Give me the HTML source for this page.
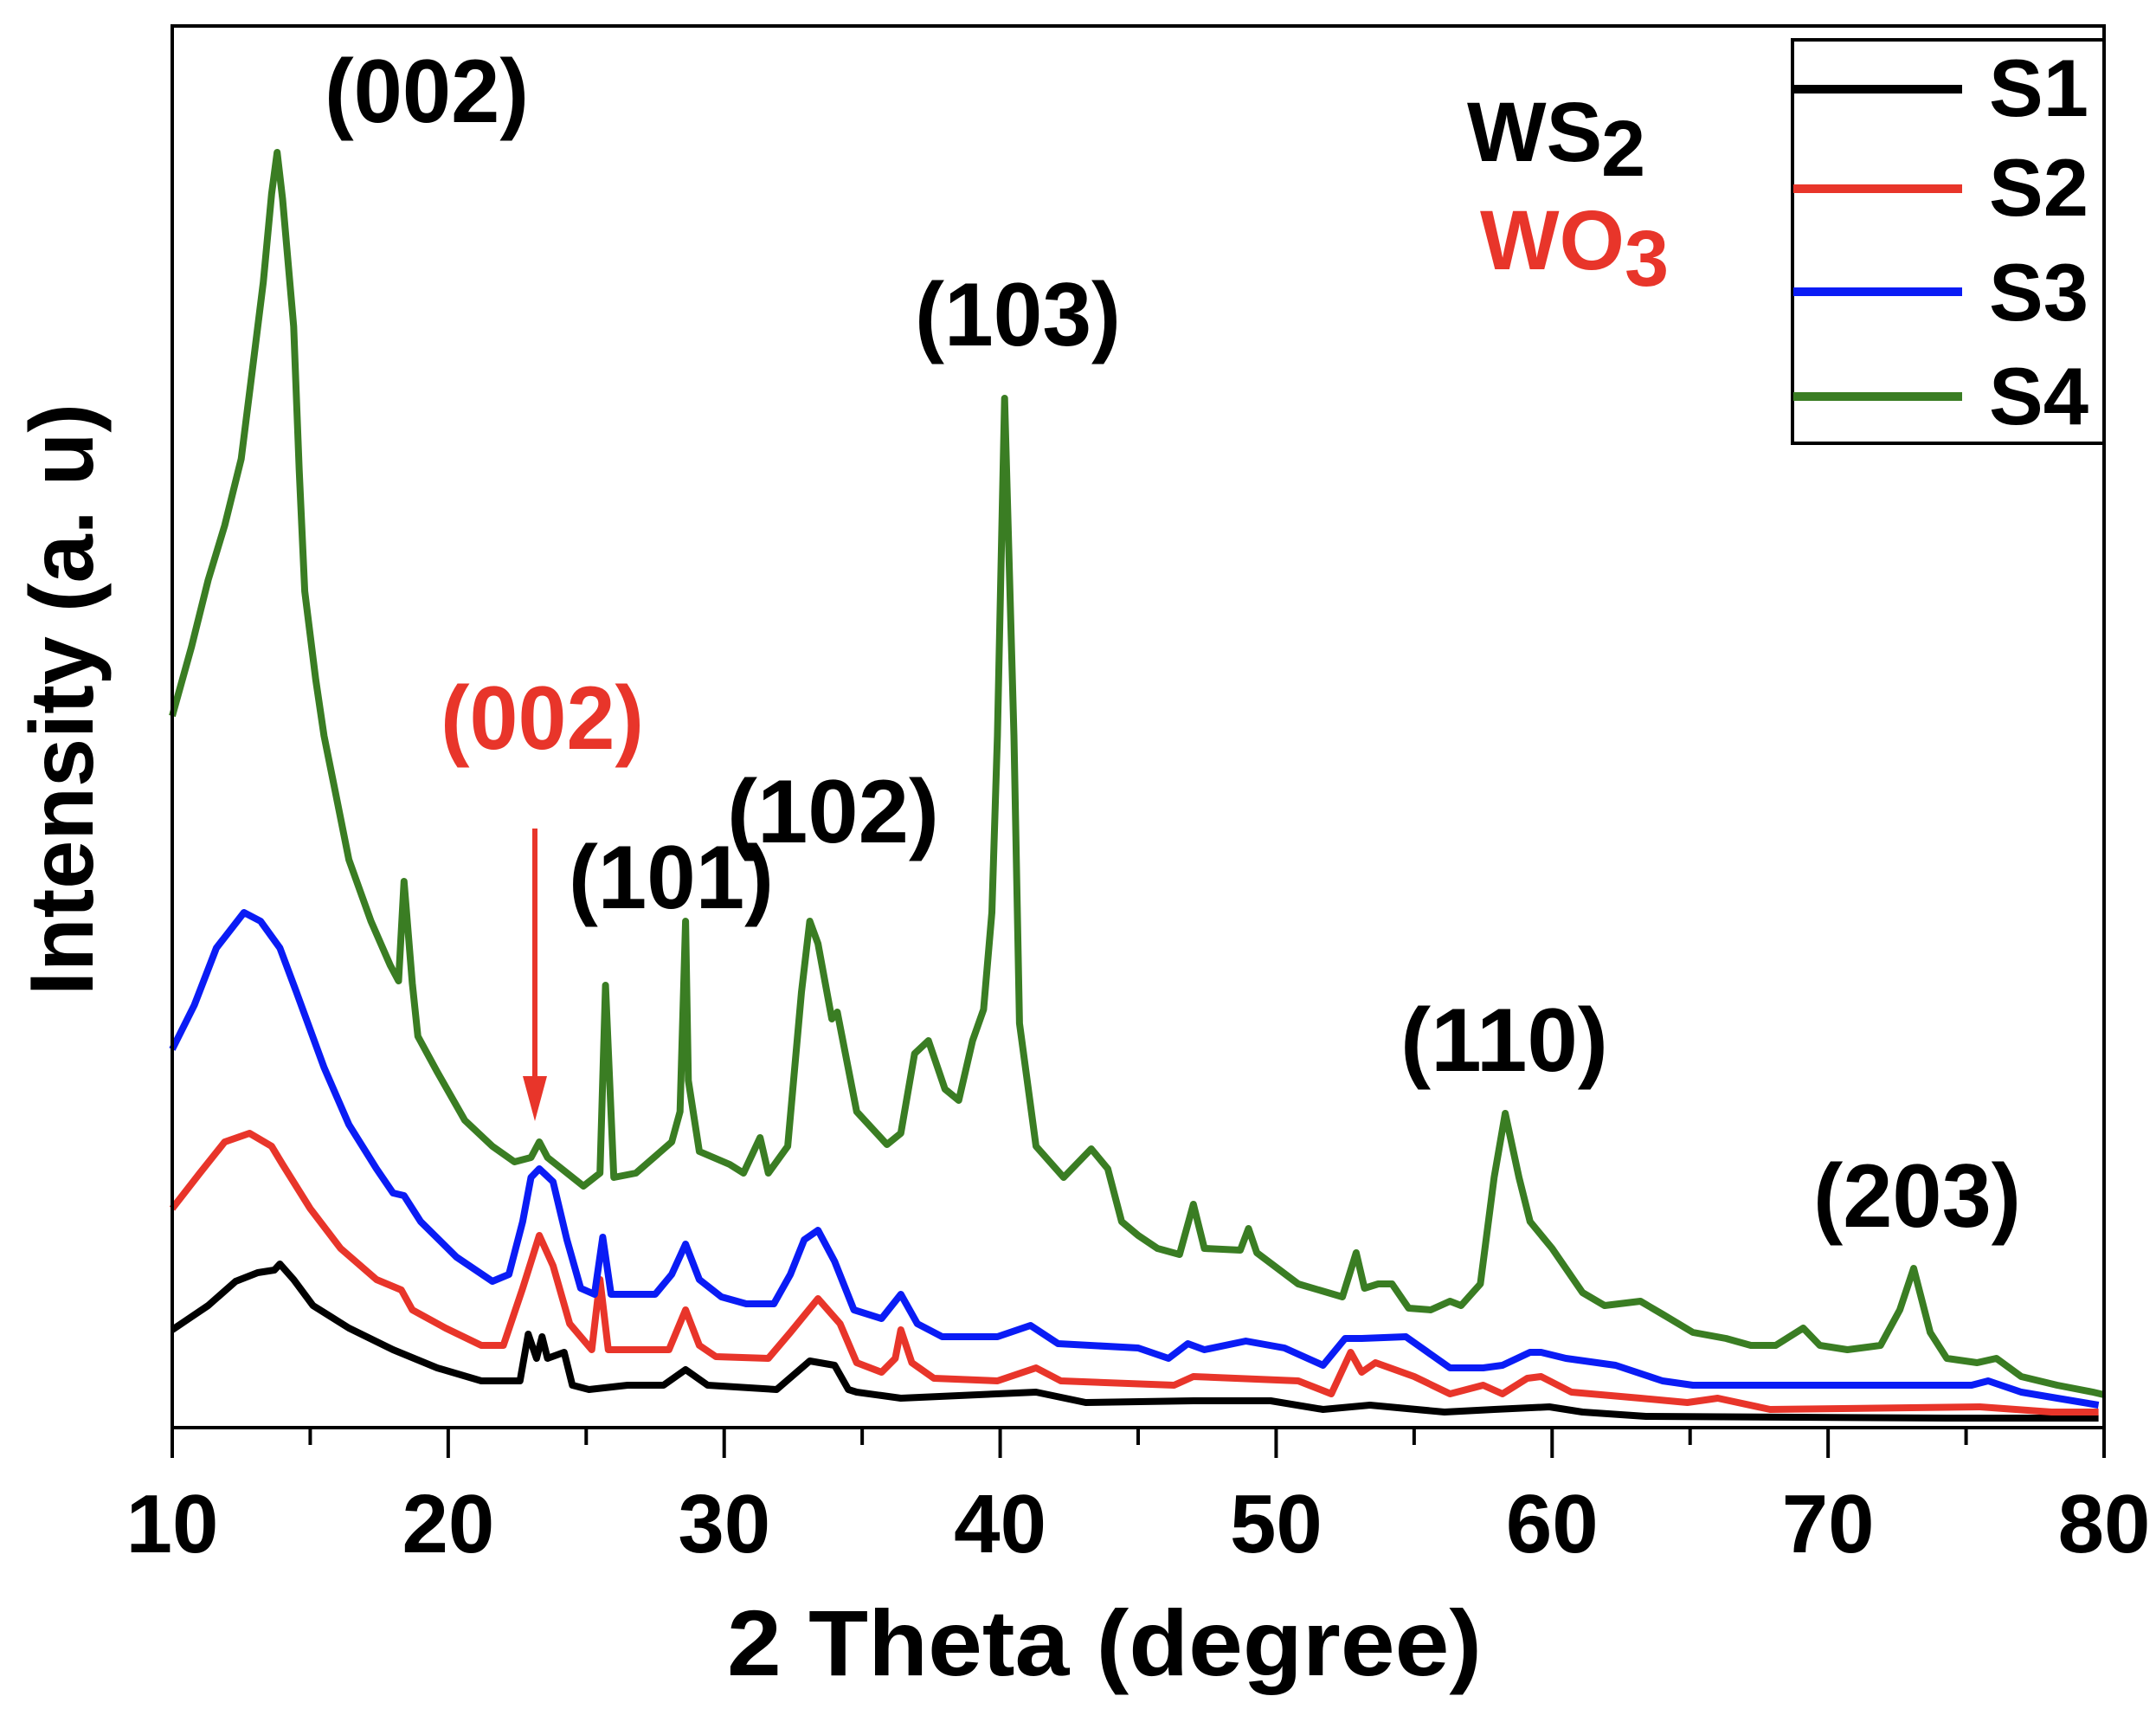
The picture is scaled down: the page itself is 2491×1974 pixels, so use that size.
<!DOCTYPE html>
<html><head><meta charset="utf-8"><style>
html,body{margin:0;padding:0;background:#fff;}
svg{display:block;font-family:"Liberation Sans",Arial,sans-serif;font-weight:bold;}
</style></head>
<body>
<svg id="chart" width="2491" height="1974" viewBox="0 0 2491 1974" xmlns="http://www.w3.org/2000/svg">
<rect x="0" y="0" width="2491" height="1974" fill="#fff"/>
<g id="series"></g>
<g id="axes"></g>
<rect x="199" y="30" width="2232" height="1619" fill="none" stroke="#000" stroke-width="4"/>
<text x="107" y="808" font-size="104" text-anchor="middle" transform="rotate(-90 107 808)" textLength="684" lengthAdjust="spacingAndGlyphs">Intensity (a. u)</text>
<text x="1276" y="1935" font-size="108" text-anchor="middle" textLength="872" lengthAdjust="spacingAndGlyphs">2 Theta (degree)</text>
<text x="375" y="141" font-size="104" textLength="236" lengthAdjust="spacingAndGlyphs">(002)</text>
<text x="1057" y="399" font-size="104" textLength="238" lengthAdjust="spacingAndGlyphs">(103)</text>
<text x="509" y="865" font-size="104" fill="#e8352a" textLength="235" lengthAdjust="spacingAndGlyphs">(002)</text>
<text x="840" y="973" font-size="104" textLength="245" lengthAdjust="spacingAndGlyphs">(102)</text>
<text x="657" y="1049" font-size="104" textLength="237" lengthAdjust="spacingAndGlyphs">(101)</text>
<text x="1618" y="1237" font-size="104" textLength="240" lengthAdjust="spacingAndGlyphs">(110)</text>
<text x="2095" y="1417" font-size="104" textLength="240" lengthAdjust="spacingAndGlyphs">(203)</text>
<text x="1695" y="186" font-size="97">WS<tspan x="1850" y="203" font-size="92">2</tspan></text>
<text x="1710" y="311" font-size="97" fill="#e8352a">WO<tspan x="1877" y="330" font-size="92">3</tspan></text>
<line x1="618" y1="957" x2="618" y2="1250" stroke="#e8352a" stroke-width="6"/>
<polygon points="604,1243 632,1243 618,1295" fill="#e8352a"/>
<g>
<rect x="2071" y="46" width="360" height="466" fill="#fff" stroke="#000" stroke-width="4"/>
<line x1="2072" y1="103" x2="2267" y2="103" stroke="#000" stroke-width="10"/>
<line x1="2072" y1="218" x2="2267" y2="218" stroke="#e8352a" stroke-width="10"/>
<line x1="2072" y1="337" x2="2267" y2="337" stroke="#0a1cf5" stroke-width="10"/>
<line x1="2072" y1="458" x2="2267" y2="458" stroke="#3a7d23" stroke-width="10"/>
<text x="2298" y="134" font-size="94">S1</text>
<text x="2298" y="249" font-size="94">S2</text>
<text x="2298" y="370" font-size="94">S3</text>
<text x="2298" y="490" font-size="94">S4</text>
</g>
</svg>
<script>
const xTicks = [10,20,30,40,50,60,70,80];
const xTickLabels = ["10","20","30","40","50","60","70","80"];
const xMinor = [15,25,35,45,55,65,75];
const s1X = [10.0,11.3,12.3,13.1,13.7,13.9,14.4,15.1,16.4,18.0,19.6,21.2,22.6,22.9,23.2,23.4,23.6,24.2,24.5,25.1,26.5,27.8,28.6,29.4,31.9,33.1,34.0,34.5,34.8,36.4,41.3,43.1,47.0,49.8,51.7,53.4,56.1,57.9,59.9,61.1,63.4,74.3,79.8];
const s1Y = [113,141,169,179,182,189,171,141,115,90,69,54,54,108,80,105,80,87,49,44,49,49,67,49,44,77,72,44,41,34,41,29,31,31,21,26,18,21,24,18,13,11,11];
const s2X = [10.0,11.0,11.9,12.8,13.6,14.0,15.0,16.1,17.4,18.3,18.7,19.9,21.2,22.0,22.7,23.3,23.8,24.4,25.2,25.5,25.8,28.0,28.6,29.1,29.7,31.6,32.4,33.4,34.2,34.8,35.7,36.2,36.4,36.8,37.6,39.9,41.3,42.2,46.3,47.0,50.8,52.0,52.7,53.1,53.6,55.0,56.3,57.5,58.2,59.1,59.6,60.7,63.2,64.9,66.0,67.9,75.5,78.1,79.8];
const s2Y = [253,294,330,340,325,304,253,207,171,159,136,115,95,95,161,222,187,120,90,171,90,90,136,95,82,80,110,149,120,75,64,80,113,75,57,54,69,54,49,59,54,39,87,64,75,59,39,49,39,57,59,41,34,29,34,21,24,18,18];
const s3X = [10.0,10.8,11.6,12.6,13.2,13.9,14.5,15.5,16.4,17.4,18.0,18.4,19.0,20.3,21.6,22.2,22.7,23.0,23.3,23.8,24.3,24.8,25.3,25.6,25.9,27.5,28.1,28.6,29.1,29.9,30.8,31.8,32.4,32.9,33.4,34.0,34.7,35.7,36.4,37.0,37.9,39.9,41.1,42.1,45.0,46.1,46.8,47.4,48.9,50.3,51.7,52.5,53.1,54.7,56.3,57.5,58.2,59.2,59.6,60.5,62.3,64.0,65.1,75.2,75.8,77.0,78.3,79.8];
const s3Y = [437,488,554,595,585,554,503,416,350,299,271,268,238,197,169,177,238,289,299,284,217,161,154,220,154,154,177,212,171,151,143,143,177,217,228,192,136,126,154,120,105,105,118,97,92,80,97,90,100,92,72,103,103,105,69,69,72,87,87,80,72,54,49,49,54,41,34,26];
const s4X = [10.0,10.7,11.3,11.9,12.5,12.9,13.3,13.6,13.8,14.0,14.4,14.6,14.8,15.2,15.5,15.9,16.4,17.2,17.9,18.2,18.4,18.7,18.9,19.6,20.6,21.6,22.4,23.0,23.3,23.6,24.9,25.5,25.7,26.0,26.8,28.1,28.4,28.6,28.7,29.1,30.2,30.7,31.3,31.6,32.3,32.8,33.1,33.4,33.9,34.1,34.8,35.9,36.4,36.9,37.4,38.0,38.5,39.0,39.4,39.7,39.9,40.16,40.5,40.7,41.3,42.3,43.3,43.9,44.4,45.0,45.7,46.5,47.0,47.4,48.7,49.0,49.3,50.8,52.4,52.9,53.2,53.7,54.2,54.8,55.6,56.3,56.7,57.4,57.9,58.3,58.8,59.2,60.0,61.1,61.9,63.2,64.0,65.1,66.3,67.2,68.1,69.1,69.7,70.7,71.9,72.6,73.1,73.7,74.3,75.4,76.1,77.0,78.3,79.6,80.0];
const s4Y = [822,902,979,1042,1119,1221,1323,1425,1473,1419,1272,1106,966,864,799,736,656,585,534,516,631,513,452,411,355,325,307,312,330,312,279,294,511,289,294,330,365,585,401,319,304,294,335,294,325,503,585,559,472,480,365,327,340,432,447,391,378,447,483,595,799,1189,799,467,325,289,322,299,238,222,207,200,258,207,205,230,202,166,151,202,161,166,166,138,136,146,141,166,289,363,289,238,207,156,141,146,131,110,103,95,95,115,95,90,95,136,184,110,80,75,80,59,49,41,38];

const NS = "http://www.w3.org/2000/svg";
const X0 = 199, X1 = 2431, Y0 = 1649, Y1 = 30;
function xScale(d){ return X0 + (d - 10) / 70 * (X1 - X0); }
function yScale(v){ return Y0 - v / 1619 * (Y0 - Y1); }

const seriesG = document.getElementById('series');
const defs = [[s1X,s1Y,'#000','series-s1'],[s2X,s2Y,'#e8352a','series-s2'],[s3X,s3Y,'#0a1cf5','series-s3'],[s4X,s4Y,'#3a7d23','series-s4']];
defs.forEach(function(s){
  const p = document.createElementNS(NS,'polyline');
  p.setAttribute('points', s[0].map(function(x,i){ return xScale(x).toFixed(1)+','+yScale(s[1][i]).toFixed(1); }).join(' '));
  p.setAttribute('fill','none');
  p.setAttribute('stroke', s[2]);
  p.setAttribute('stroke-width','8');
  p.setAttribute('stroke-linejoin','round');
  
  
  seriesG.appendChild(p);
});

const axesG = document.getElementById('axes');
xTicks.forEach(function(t,i){
  const l = document.createElementNS(NS,'line');
  l.setAttribute('x1', xScale(t)); l.setAttribute('x2', xScale(t));
  l.setAttribute('y1', Y0); l.setAttribute('y2', Y0 + 35);
  l.setAttribute('stroke','#000'); l.setAttribute('stroke-width','4');
  
  
  axesG.appendChild(l);
  const tx = document.createElementNS(NS,'text');
  tx.setAttribute('x', xScale(t)); tx.setAttribute('y', 1793);
  tx.setAttribute('text-anchor','middle'); tx.setAttribute('font-size','96');
  tx.textContent = xTickLabels[i];
  
  
  axesG.appendChild(tx);
});
xMinor.forEach(function(t){
  const l = document.createElementNS(NS,'line');
  l.setAttribute('x1', xScale(t)); l.setAttribute('x2', xScale(t));
  l.setAttribute('y1', Y0); l.setAttribute('y2', Y0 + 20);
  l.setAttribute('stroke','#000'); l.setAttribute('stroke-width','4');
  
  
  axesG.appendChild(l);
});
</script>
</body></html>
